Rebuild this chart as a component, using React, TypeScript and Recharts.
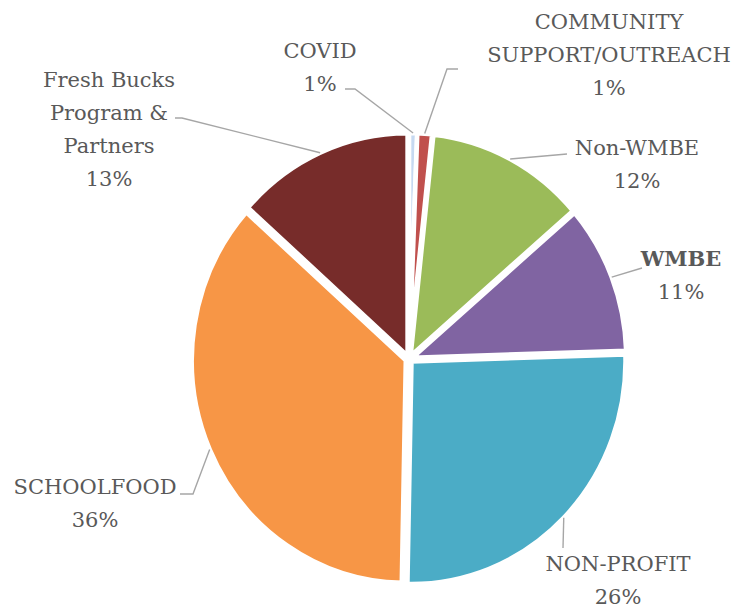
import { PieChart, Pie, Cell } from "recharts";

// spending share by vendor category, clockwise from 12 o'clock
const categories = [
  "COVID",
  "COMMUNITY\nSUPPORT/OUTREACH",
  "Non-WMBE",
  "WMBE",
  "NON-PROFIT",
  "SCHOOLFOOD",
  "Fresh Bucks\nProgram &\nPartners",
];
const shares = [0.6, 1.1, 12.0, 10.8, 25.8, 36.3, 13.4];
const colors = ["#c6d9f1", "#c0504d", "#9bbb59", "#8064a2", "#4bacc6", "#f79646", "#772c2a"];
const boldLabels = ["WMBE"];

const data = categories.map((name, i) => ({ name, value: shares[i] }));

const CX = 409;
const CY = 359;
const RX = 214;
const RY = 222.5; // the original picture is a little stretched vertically
const EXPLODE = 3.5;
const RAD = Math.PI / 180;
const LINE_H = 33;

// where each label sits (offsets from the pie centre) and the bend of its leader line
const labelSpots = [
  { tx: -89, ty: -301, path: [[-54, -270], [-64, -270]] },
  { tx: 200, ty: -330, path: [[38, -290], [49, -290]] },
  { tx: 228, ty: -204, path: [[158, -205]] },
  { tx: 272, ty: -93, path: [[233, -91]] },
  { tx: 209, ty: 212, path: [[154, 189]] },
  { tx: -314, ty: 135, path: [[-216, 135], [-229, 135]] },
  { tx: -300, ty: -272, path: [[-227, -241], [-234, -241]] },
];

function Slice(props: any) {
  const { cx, cy, startAngle, endAngle, outerRadius, fill } = props;
  const mid = (startAngle + endAngle) / 2;
  const rx = outerRadius;
  const ry = (outerRadius * RY) / RX;
  const ox = cx + EXPLODE * Math.cos(mid * RAD);
  const oy = cy - EXPLODE * Math.sin(mid * RAD);
  const x1 = ox + rx * Math.cos(startAngle * RAD);
  const y1 = oy - ry * Math.sin(startAngle * RAD);
  const x2 = ox + rx * Math.cos(endAngle * RAD);
  const y2 = oy - ry * Math.sin(endAngle * RAD);
  const large = Math.abs(endAngle - startAngle) > 180 ? 1 : 0;
  const sweep = startAngle > endAngle ? 1 : 0;
  const d = `M${ox},${oy} L${x1},${y1} A${rx},${ry} 0 ${large} ${sweep} ${x2},${y2} Z`;
  return <path d={d} fill={fill} stroke="#ffffff" strokeWidth={4.5} strokeLinejoin="miter" />;
}

function renderLabel(p: any) {
  const i = p.index;
  const spot = labelSpots[i];
  const m = p.midAngle;
  const sx = p.cx + (p.outerRadius + EXPLODE) * Math.cos(m * RAD);
  const sy = p.cy - ((p.outerRadius * RY) / RX + EXPLODE) * Math.sin(m * RAD);
  const pts = [[sx, sy], ...spot.path.map(([dx, dy]) => [p.cx + dx, p.cy + dy])];
  const lines = String(p.name).split("\n");
  lines.push(Math.round(p.percent * 100) + "%");
  const bold = boldLabels.includes(p.name);
  return (
    <g key={"lbl" + i}>
      <polyline
        points={pts.map((q) => q.join(",")).join(" ")}
        fill="none"
        stroke="#a6a6a6"
        strokeWidth={1.4}
      />
      <text
        x={p.cx + spot.tx}
        y={p.cy + spot.ty}
        textAnchor="middle"
        fill="#595959"
        fontFamily="'DejaVu Serif', serif"
        fontSize={21}
      >
        {lines.map((t, k) => (
          <tspan
            key={k}
            x={p.cx + spot.tx}
            dy={k === 0 ? 0 : LINE_H}
            fontWeight={bold && k === 0 ? "bold" : "normal"}
          >
            {t}
          </tspan>
        ))}
      </text>
    </g>
  );
}

export default function App() {
  return (
    <div style={{ position: "absolute", left: 0, top: 0, background: "#fff" }}>
      <PieChart width={749} height={609} margin={{ top: 0, right: 0, bottom: 0, left: 0 }}>
        <Pie
          data={data}
          dataKey="value"
          nameKey="name"
          cx={CX}
          cy={CY}
          outerRadius={RX}
          startAngle={90}
          endAngle={-270}
          isAnimationActive={false}
          shape={Slice}
          activeShape={Slice}
          inactiveShape={Slice}
          label={renderLabel}
          labelLine={false}
          stroke="#ffffff"
        >
          {data.map((d, i) => (
            <Cell key={d.name} fill={colors[i]} />
          ))}
        </Pie>
      </PieChart>
    </div>
  );
}
